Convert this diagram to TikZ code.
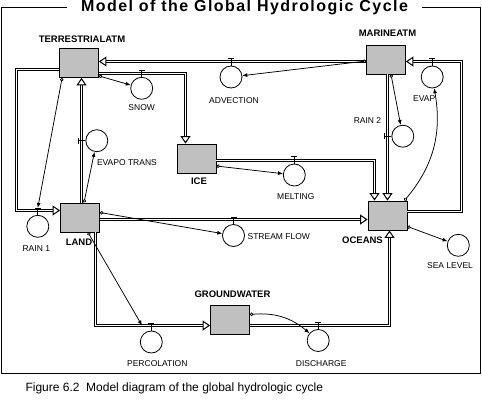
\documentclass[tikz,border=0pt]{standalone}
\usepackage{fontspec}
\setmainfont{Liberation Sans}
\usetikzlibrary{arrows.meta, positioning, calc}
\definecolor{stockgray}{RGB}{192,192,192}

\begin{document}
\begin{tikzpicture}[x=1pt, y=-1pt,
            stock/.style={draw, line width=0.8pt, fill=stockgray, minimum width=39pt, minimum height=29pt, inner sep=0pt},
            stocklbl/.style={font=\bfseries\fontsize{9.5}{10}\selectfont, inner sep=1pt},
            rate/.style={draw, circle, line width=0.8pt, minimum size=22pt, inner sep=0pt},
            ratelbl/.style={font=\fontsize{8.5}{9}\selectfont, inner sep=1pt},
            pipe/.style={double, double distance=1pt, line width=1pt, -{Triangle[open, length=7.5pt, width=10pt]}},
            info/.style={{Circle[open, length=3.5pt]}-{Latex[length=5pt, width=4pt]}, line width=0.75pt},
            valve/.style={line width=0.8pt}]

            \useasboundingbox (0,0) rectangle (482,402);

            % Frame, title and caption
            \draw[line width=1pt] (1.5,7.5) rectangle (480.5,373.5);
            \node[fill=white, inner xsep=14pt, font=\bfseries\fontsize{16}{17}\selectfont\addfontfeatures{LetterSpace=9}] (title) at (244.5,7.5) {Model of the Global Hydrologic Cycle};
            \node[anchor=west, font=\fontsize{12}{13}\selectfont] (caption) at (22,388) {Figure 6.2\ \ Model diagram of the global hydrologic cycle};

            % Stocks
            \node[stock] (terr) at (79,63) {};
            \node[stock] (marine) at (386,59.5) {};
            \node[stock] (ice) at (196.5,158.5) {};
            \node[stock] (land) at (80,217.5) {};
            \node[stock] (oceans) at (387.5,215.5) {};
            \node[stock] (ground) at (230,319.5) {};

            \node[stocklbl, above=4pt of terr, xshift=3pt] (terrlbl) {TERRESTRIALATM};
            \node[stocklbl, above=6.5pt of marine, xshift=1.5pt] (marinelbl) {MARINEATM};
            \node[stocklbl, below=3.5pt of ice, xshift=2.5pt] (icelbl) {ICE};
            \node[stocklbl, below=5pt of land, xshift=-1pt] (landlbl) {LAND};
            \node[stocklbl, below=5pt of oceans, xshift=-25pt] (oceanslbl) {OCEANS};
            \node[stocklbl, above=6pt of ground, xshift=2.5pt] (groundlbl) {GROUNDWATER};

            % Rates
            \node[rate] (snow) at (141.7,88.3) {};
            \node[rate] (adv) at (231,77) {};
            \node[rate] (evap) at (432.2,77) {};
            \node[rate] (rain2) at (402.8,136.2) {};
            \node[rate] (evt) at (96.8,140.7) {};
            \node[rate] (melt) at (294.3,175) {};
            \node[rate] (rain1) at (37.8,226.3) {};
            \node[rate] (stream) at (233.5,235.5) {};
            \node[rate] (sea) at (458.3,245.3) {};
            \node[rate] (perc) at (151.3,342) {};
            \node[rate] (disc) at (318.2,340.5) {};

            \node[ratelbl, below=3.5pt of snow] (snowlbl) {SNOW};
            \node[ratelbl, below=7.5pt of adv, xshift=3pt] (advlbl) {ADVECTION};
            \node[ratelbl, below=6.5pt of evap, xshift=-8pt] (evaplbl) {EVAP};
            \node[ratelbl, left=9pt of rain2, yshift=16pt] (rain2lbl) {RAIN 2};
            \node[ratelbl, below=6.3pt of evt.south, anchor=north west, xshift=-1pt] (evtlbl) {EVAPO TRANS};
            \node[ratelbl, below=5.5pt of melt, xshift=1.5pt] (meltlbl) {MELTING};
            \node[ratelbl, below=7pt of rain1, xshift=-1.5pt] (rain1lbl) {RAIN 1};
            \node[ratelbl, right=1.5pt of stream, yshift=-1.2pt] (streamlbl) {STREAM FLOW};
            \node[ratelbl, below=4.7pt of sea, xshift=-8.3pt] (sealbl) {SEA LEVEL};
            \node[ratelbl, below=6pt of perc, xshift=6pt] (perclbl) {PERCOLATION};
            \node[ratelbl, below=7pt of disc, xshift=3pt] (disclbl) {DISCHARGE};

            % Flows
            \draw[pipe] ([yshift=-2pt]marine.west) -- ([yshift=1.5pt]terr.east);
            \draw[pipe] ([yshift=4pt]oceans.east) -| (461.5,61.5) -- ([yshift=-2pt]marine.east);
            \draw[pipe] ([xshift=1.5pt]marine.south) -- (oceans.north);
            \draw[pipe] ([yshift=-10.5pt]terr.east) -| ([xshift=-11pt]ice.north);
            \draw[pipe] ([yshift=-2pt]ice.east) -| ([xshift=-13pt]oceans.north);
            \draw[pipe] ([xshift=1.5pt]land.north) -- ([xshift=2.5pt]terr.south);
            \draw[pipe] ([yshift=-6.5pt]terr.west) -| (16.5,210.5) -- ([yshift=7pt]land.west);
            \draw[pipe] ([yshift=-2pt]land.east) -- ([yshift=-4pt]oceans.west);
            \draw[pipe] ([xshift=15.5pt]land.south) |- ([yshift=-6pt]ground.west);
            \draw[pipe] ([yshift=-6pt]ground.east) -| ([xshift=2pt]oceans.south);

            % Valves
            \foreach \r in {snow, adv, evap, melt, rain1, stream, perc, disc}
                \draw[valve] (\r.north) -- ++(0,-7) coordinate (\r v) ++(-3,0) -- ++(6,0);
            \foreach \r in {evt, rain2}
                \draw[valve] (\r.west) -- ++(-7,0) coordinate (\r v) ++(0,-3) -- ++(0,6);
            \coordinate (percin) at (142,325.5);

            % Information links
            \draw[info] ([xshift=3pt]terr.south west) -- (rain1v);
            \draw[info] ([yshift=2pt]terr.south east) -- (snow);
            \draw[info] ([yshift=-1.5pt]marine.west) -- (adv);
            \draw[info] ([xshift=5pt]marine.south) -- (rain2);
            \draw[info] ([xshift=-3pt]oceans.north east) to[out=50, in=-80] (evap);
            \draw[info] ([xshift=4pt]land.north) -- (evt);
            \draw[info] ([yshift=5pt]land.east) -- (stream);
            \draw[info] ([yshift=-7.5pt]ice.east) -- (melt);
            \draw[info] ([yshift=-11pt]oceans.east) -- (sea);
            \draw[info] ([xshift=8pt]land.south) -- (percin);
            \draw[info] ([yshift=5pt]ground.east) to[out=5, in=140] (disc);
        \end{tikzpicture}
\end{document}
